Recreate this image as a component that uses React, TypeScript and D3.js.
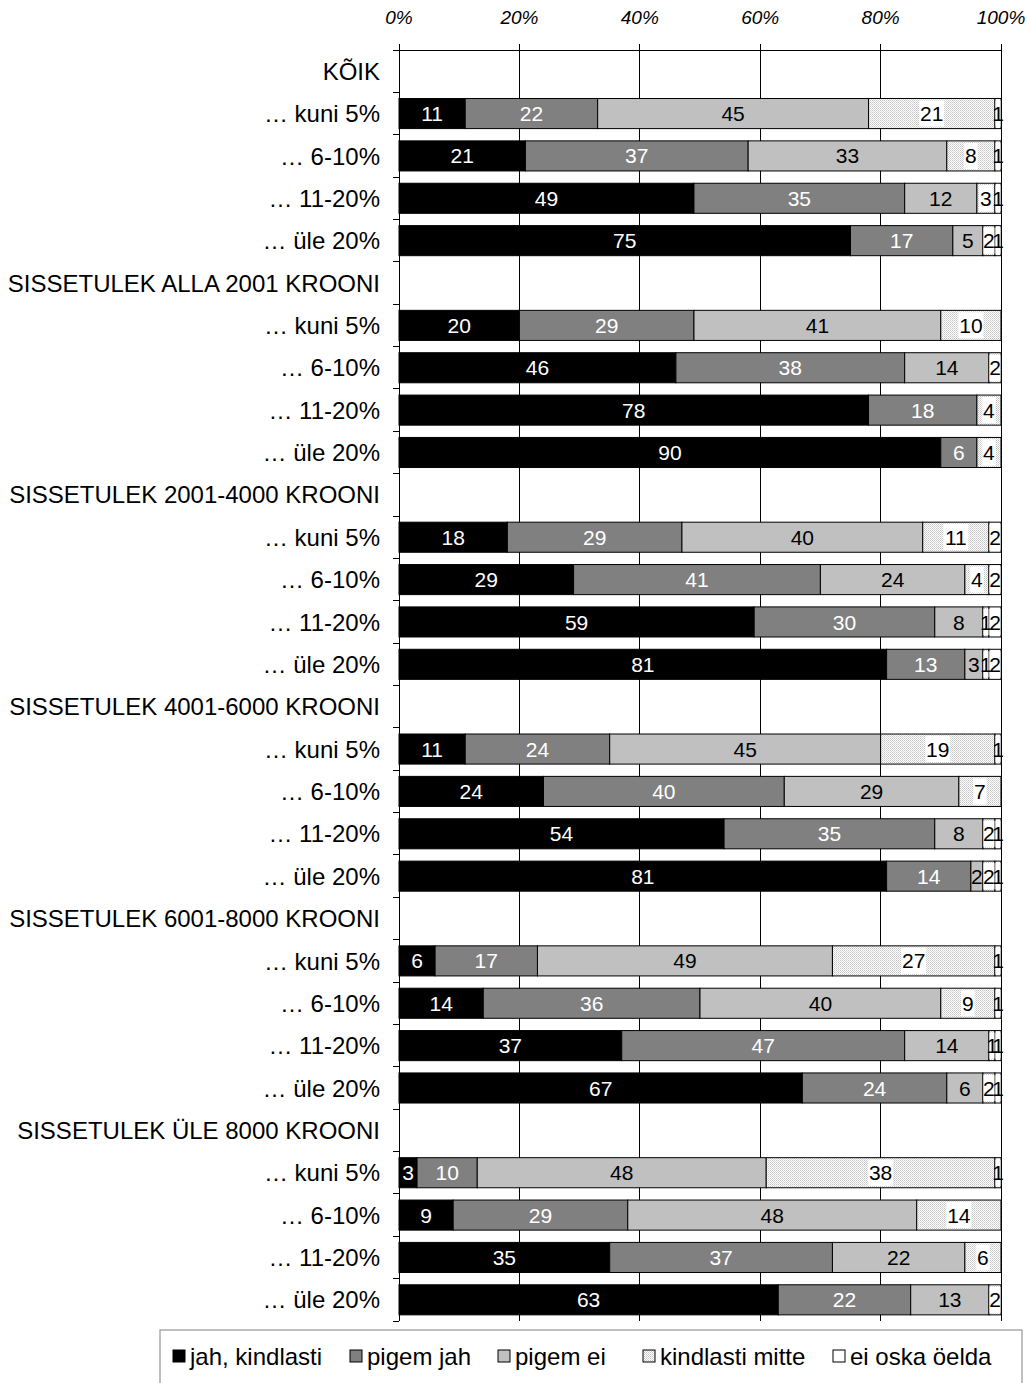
import React from "react";
import * as d3 from "d3";

const rowLabels = [
  "KÕIK", "… kuni 5%", "… 6-10%", "… 11-20%", "… üle 20%",
  "SISSETULEK ALLA 2001 KROONI", "… kuni 5%", "… 6-10%", "… 11-20%", "… üle 20%",
  "SISSETULEK 2001-4000 KROONI", "… kuni 5%", "… 6-10%", "… 11-20%", "… üle 20%",
  "SISSETULEK 4001-6000 KROONI", "… kuni 5%", "… 6-10%", "… 11-20%", "… üle 20%",
  "SISSETULEK 6001-8000 KROONI", "… kuni 5%", "… 6-10%", "… 11-20%", "… üle 20%",
  "SISSETULEK ÜLE 8000 KROONI", "… kuni 5%", "… 6-10%", "… 11-20%", "… üle 20%",
];

const seriesNames = ["jah, kindlasti", "pigem jah", "pigem ei", "kindlasti mitte", "ei oska öelda"];

const jahKindlasti = [null, 11, 21, 49, 75, null, 20, 46, 78, 90, null, 18, 29, 59, 81, null, 11, 24, 54, 81, null, 6, 14, 37, 67, null, 3, 9, 35, 63];
const pigemJah = [null, 22, 37, 35, 17, null, 29, 38, 18, 6, null, 29, 41, 30, 13, null, 24, 40, 35, 14, null, 17, 36, 47, 24, null, 10, 29, 37, 22];
const pigemEi = [null, 45, 33, 12, 5, null, 41, 14, 0, 0, null, 40, 24, 8, 3, null, 45, 29, 8, 2, null, 49, 40, 14, 6, null, 48, 48, 22, 13];
const kindlastiMitte = [null, 21, 8, 3, 2, null, 10, 2, 4, 4, null, 11, 4, 1, 1, null, 19, 7, 2, 2, null, 27, 9, 1, 2, null, 38, 14, 6, 2];
const eiOska = [null, 1, 1, 1, 1, null, 0, 0, 0, 0, null, 2, 2, 2, 2, null, 1, 0, 1, 1, null, 1, 1, 1, 1, null, 1, 0, 0, 0];

const tickValues = [0, 20, 40, 60, 80, 100];

const series = [jahKindlasti, pigemJah, pigemEi, kindlastiMitte, eiOska];
const fills = ["#000000", "#808080", "#c0c0c0", "url(#dots)", "#ffffff"];
const textColors = ["#ffffff", "#ffffff", "#000000", "#000000", "#000000"];
const labelBg = [false, false, false, true, true];

const FONT = "'Liberation Sans', Arial, sans-serif";

export default function App() {
  const W = 1027, H = 1383;
  const x0 = 399, x1 = 1001;
  const yTop = 50, yBot = 1321;
  const x = d3.scaleLinear().domain([0, 100]).range([x0, x1]);
  const idx = rowLabels.map((_, i) => i);
  const y = d3.scaleBand<number>().domain(idx).range([yTop, yBot]).padding(0);
  const bw = y.bandwidth();
  const barH = bw * 0.71;

  const legendX = [173, 350, 498, 643, 833];

  const rows = idx.filter((i) => jahKindlasti[i] !== null).map((i) => {
    let cum = 0;
    const top = (y(i) as number) + (bw - barH) / 2;
    const segs = series.map((s, k) => {
      const v = s[i] as number;
      const start = cum;
      cum += v;
      return { k, v, start, end: cum };
    }).filter((s) => s.v > 0);
    return { i, top, segs };
  });

  return (
    <svg width={W} height={H} style={{ position: "fixed", left: 0, top: 0, background: "#fff" }} fontFamily={FONT}>
      <defs>
        <pattern id="dots" width="2" height="2" patternUnits="userSpaceOnUse">
          <rect width="2" height="2" fill="#ffffff" />
          <rect x="0" y="0" width="1" height="1" fill="#c4c4c4" />
          <rect x="1" y="1" width="1" height="1" fill="#d8d8d8" />
        </pattern>
      </defs>
      <rect width={W} height={H} fill="#fff" />

      {tickValues.map((t) => (
        <line key={"g" + t} x1={x(t)} x2={x(t)} y1={yTop - 6} y2={yBot} stroke="#000" strokeWidth={1} shapeRendering="crispEdges" />
      ))}
      <line x1={x0} x2={x1} y1={yTop} y2={yTop} stroke="#000" strokeWidth={1} shapeRendering="crispEdges" />
      {d3.range(rowLabels.length + 1).map((i) => (
        <line key={"lt" + i} x1={x0 - 6} x2={x0} y1={yTop + i * bw} y2={yTop + i * bw} stroke="#000" strokeWidth={1} shapeRendering="crispEdges" />
      ))}

      {tickValues.map((t) => (
        <text key={"tl" + t} x={x(t)} y={24} fontSize={19} fontStyle="italic" textAnchor="middle" fill="#000">
          {t + "%"}
        </text>
      ))}

      {rowLabels.map((lab, i) => (
        <text key={"rl" + i} x={380} y={(y(i) as number) + bw / 2} dy="0.36em" fontSize={24} textAnchor="end" fill="#000">
          {lab}
        </text>
      ))}

      {rows.map((r) => (
        <g key={"b" + r.i}>
          {r.segs.map((s) => (
            <rect key={"r" + s.k} x={x(s.start)} y={r.top} width={x(s.end) - x(s.start)} height={barH}
              fill={fills[s.k]} stroke="#000" strokeWidth={1} />
          ))}
          {r.segs.filter((s) => labelBg[s.k]).map((s) => {
            const cx = (x(s.start) + x(s.end)) / 2;
            const tw = String(s.v).length * 11.5;
            const segW = x(s.end) - x(s.start);
            const w = Math.min(tw + 2, Math.max(segW - 1, 4));
            return (
              <rect key={"bg" + s.k} x={cx - w / 2} y={r.top + 2} width={w} height={barH - 4} fill="#fff" />
            );
          })}
          {r.segs.map((s) => {
            const cx = (x(s.start) + x(s.end)) / 2;
            return (
              <text key={"t" + s.k} x={cx} y={r.top + barH / 2} dy="0.36em" fontSize={21} textAnchor="middle" fill={textColors[s.k]}>
                {s.v}
              </text>
            );
          })}
        </g>
      ))}

      <rect x={160} y={1330} width={862} height={70} fill="#fff" stroke="#808080" strokeWidth={1} />
      {seriesNames.map((n, k) => (
        <g key={"lg" + k}>
          <rect x={legendX[k]} y={1350} width={12} height={12} fill={fills[k]} stroke="#000" strokeWidth={1} />
          <text x={legendX[k] + 17} y={1356} dy="0.36em" fontSize={24} fill="#000">{n}</text>
        </g>
      ))}
    </svg>
  );
}
